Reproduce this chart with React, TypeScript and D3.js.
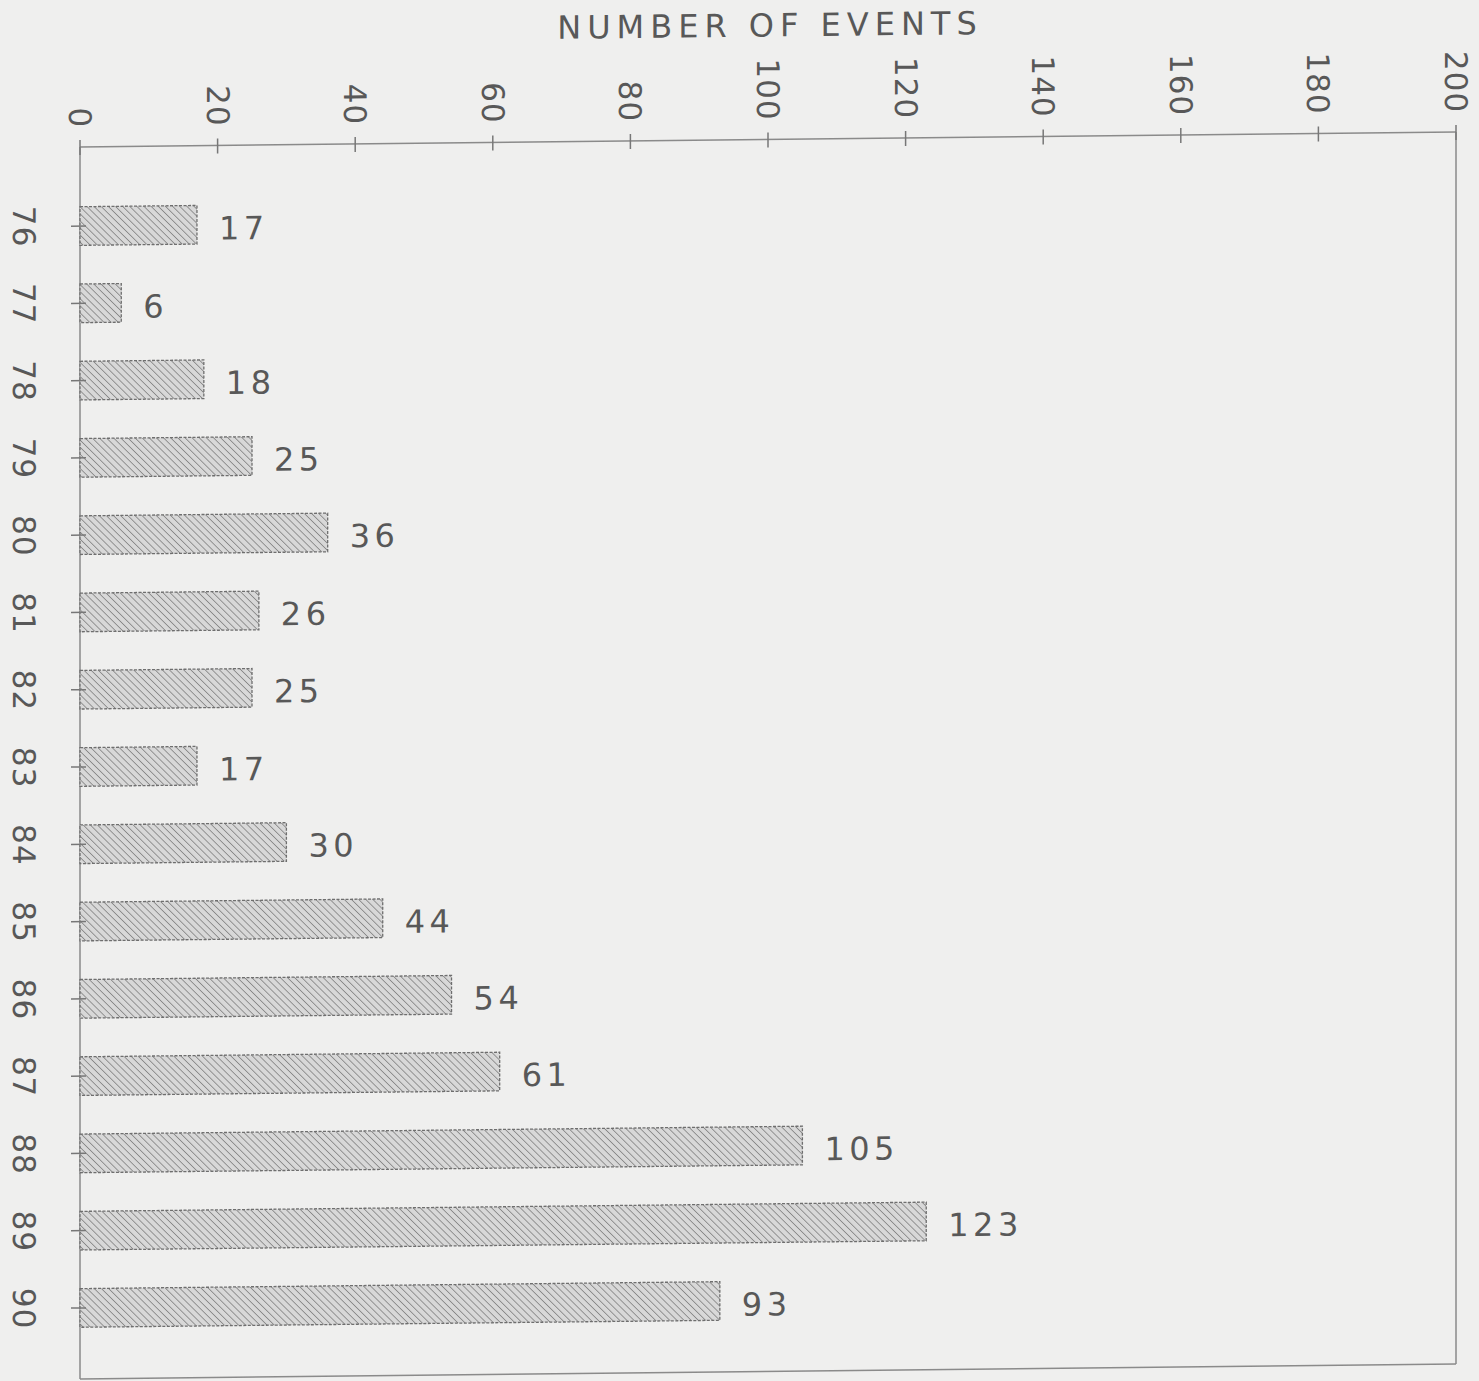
import React from "react";
import * as d3 from "d3";

const years = ["76", "77", "78", "79", "80", "81", "82", "83", "84", "85", "86", "87", "88", "89", "90"];
const events = [17, 6, 18, 25, 36, 26, 25, 17, 30, 44, 54, 61, 105, 123, 93];
const xTicks = [0, 20, 40, 60, 80, 100, 120, 140, 160, 180, 200];
const title = "NUMBER OF EVENTS";

const W = 1479;
const H = 1381;
const left = 80;
const right = 1456;
const top = 147;
const bottom = 1379;
const skew = -0.625; // slight tilt of the scanned page

export default function App() {
  const x = d3.scaleLinear().domain([0, 200]).range([left, right]);
  const y = d3.scaleBand<string>().domain(years).range([187.4, 1346.6]).paddingInner(0.5).paddingOuter(0.25);
  const ink = "#585858";
  const font = "'DejaVu Sans', 'Liberation Sans', sans-serif";
  const shift = -Math.tan((skew * Math.PI) / 180) * left;
  return (
    <svg width={W} height={H} style={{ position: "absolute", left: 0, top: 0, background: "#efefee" }}>
      <defs>
        <pattern id="hatch" width="5" height="5" patternUnits="userSpaceOnUse" patternTransform="rotate(-45)">
          <rect width="5" height="5" fill="#d8d8d8" />
          <line x1="0" y1="0" x2="0" y2="5" stroke="#888" strokeWidth="1.7" />
        </pattern>
      </defs>
      <rect x={0} y={0} width={W} height={H} fill="#efefee" />
      <g transform={`translate(0,${shift}) skewY(${skew})`}>
        <text x={770} y={33} textAnchor="middle" dominantBaseline="central" fontFamily={font} fontSize={32} letterSpacing={6} fill={ink}>
          {title}
        </text>
        {/* frame */}
        <line x1={left} x2={right} y1={top} y2={top} stroke="#8a8a8a" strokeWidth={1.5} />
        <line x1={right} x2={right} y1={top} y2={bottom} stroke="#8a8a8a" strokeWidth={1.5} />
        <line x1={left} x2={right} y1={bottom} y2={bottom} stroke="#8a8a8a" strokeWidth={1.5} />
        <line x1={left} x2={left} y1={top} y2={bottom} stroke="#8a8a8a" strokeWidth={1.5} />
        {xTicks.map((t) => (
          <g key={t}>
            <line x1={x(t)} x2={x(t)} y1={top - 7} y2={top + 8} stroke="#777" strokeWidth={1.5} />
            <text
              transform={`translate(${x(t)},${128}) rotate(90)`}
              textAnchor="end"
              dominantBaseline="central"
              fontFamily={font}
              fontSize={31}
              letterSpacing={1}
              fill={ink}
            >
              {t}
            </text>
          </g>
        ))}
        {years.map((yr, i) => {
          const yc = (y(yr) as number) + y.bandwidth() / 2;
          return (
            <g key={yr}>
              <rect
                x={x(0)}
                y={y(yr)}
                width={x(events[i]) - x(0)}
                height={y.bandwidth()}
                fill="url(#hatch)"
                stroke="#6e6e6e"
                strokeWidth={1.3}
                strokeDasharray="3,1.5"
              />
              <line x1={left - 9} x2={left + 6} y1={yc} y2={yc} stroke="#777" strokeWidth={1.5} />
              <text
                transform={`translate(${24},${yc}) rotate(90)`}
                textAnchor="middle"
                dominantBaseline="central"
                fontFamily={font}
                fontSize={31}
                letterSpacing={1}
                fill={ink}
              >
                {yr}
              </text>
              <text x={x(events[i]) + 22} y={yc + 4} dominantBaseline="central" fontFamily={font} fontSize={32} letterSpacing={4.5} fill={ink}>
                {events[i]}
              </text>
            </g>
          );
        })}
      </g>
    </svg>
  );
}
